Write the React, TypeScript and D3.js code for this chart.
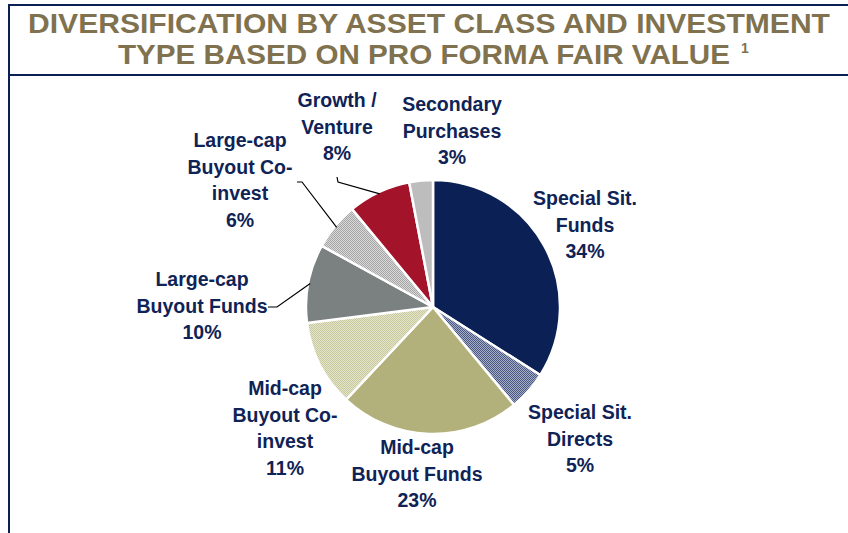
import React from 'react';
import * as d3 from 'd3';

// slice data, clockwise from 12 o'clock
const labels = [
  ['Special Sit.', 'Funds'],
  ['Special Sit.', 'Directs'],
  ['Mid-cap', 'Buyout Funds'],
  ['Mid-cap', 'Buyout Co-', 'invest'],
  ['Large-cap', 'Buyout Funds'],
  ['Large-cap', 'Buyout Co-', 'invest'],
  ['Growth /', 'Venture'],
  ['Secondary', 'Purchases'],
];
const values = [34, 5, 23, 11, 10, 6, 8, 3];
const fills = [
  '#0b2055',
  'url(#patDirects)',
  '#b3b17b',
  'url(#patMidCo)',
  '#7b8180',
  'url(#patLargeCo)',
  '#a3142b',
  '#bdbdbd',
];

// label block centre (x) and first baseline (y), relative to pie centre
const labelPos = [
  [152, -102],
  [147, 112],
  [-16, 147],
  [-148, 88],
  [-231, -21],
  [-193, -160],
  [-96, -200],
  [19, -196],
];
// leader line elbows for the labels outside the pie (null = no line)
const leaders: (number[][] | null)[] = [
  null, null, null, null,
  [[-156, 0], [-165, 0]],
  [[-131, -125], [-136, -125]],
  [[-95, -125], [-96, -130]],
  null,
];

const W = 848;
const H = 533;
const cx = 433;
const cy = 307;
const R = 127;

const App = () => {
  const pie = d3.pie<number>().sort(null).value((d) => d);
  const arcs = pie(values);
  const arc = d3.arc<d3.PieArcDatum<number>>().innerRadius(0).outerRadius(R);
  const lineGen = d3.line();

  return (
    <svg width={W} height={H} style={{ position: 'absolute', left: 0, top: 0, background: '#fff' }}>
      <defs>
        <pattern id="patDirects" width="2" height="2" patternUnits="userSpaceOnUse">
          <rect width="2" height="2" fill="#a3adc6" />
          <rect width="1" height="1" fill="#4a5883" />
          <rect x="1" y="1" width="1" height="1" fill="#4a5883" />
        </pattern>
        <pattern id="patMidCo" width="2" height="2" patternUnits="userSpaceOnUse">
          <rect width="2" height="2" fill="#e4e4c8" />
          <rect width="1" height="1" fill="#c9c9a0" />
          <rect x="1" y="1" width="1" height="1" fill="#c9c9a0" />
        </pattern>
        <pattern id="patLargeCo" width="2" height="2" patternUnits="userSpaceOnUse">
          <rect width="2" height="2" fill="#d8d8d8" />
          <rect width="1" height="1" fill="#a6a6a6" />
          <rect x="1" y="1" width="1" height="1" fill="#a6a6a6" />
        </pattern>
      </defs>

      {/* frame */}
      <line x1={9} y1={4} x2={9} y2={H} stroke="#0b1f55" strokeWidth={2} />
      <line x1={8} y1={5} x2={W} y2={5} stroke="#0b1f55" strokeWidth={2} />
      <line x1={8} y1={75} x2={W} y2={75} stroke="#0b1f55" strokeWidth={2} />

      {/* title */}
      <g fill="#80724f" fontFamily="'Liberation Sans Narrow', 'Arial Narrow', Arial, sans-serif" fontWeight="bold">
        <text x={429} y={33} fontSize={28.5} textAnchor="middle" textLength={802} lengthAdjust="spacingAndGlyphs">
          DIVERSIFICATION BY ASSET CLASS AND INVESTMENT
        </text>
        <text x={424} y={63.5} fontSize={28.5} textAnchor="middle" textLength={612} lengthAdjust="spacingAndGlyphs">
          TYPE BASED ON PRO FORMA FAIR VALUE
        </text>
        <text x={741} y={53} fontSize={14} fontFamily="Arial, 'Liberation Sans', sans-serif">1</text>
      </g>

      <g transform={`translate(${cx},${cy})`}>
        {arcs.map((a, i) => (
          <path key={i} d={arc(a) || ''} fill={fills[i]} stroke="#fff" strokeWidth={2.5} strokeLinejoin="round" />
        ))}

        {arcs.map((a, i) => {
          const el = leaders[i];
          if (!el) return null;
          const mid = (a.startAngle + a.endAngle) / 2;
          const p0: [number, number] = [Math.sin(mid) * (R - 2), -Math.cos(mid) * (R - 2)];
          const pts = [p0, ...el.map((p) => [p[0], p[1]] as [number, number])];
          return <path key={'l' + i} d={lineGen(pts) || ''} fill="none" stroke="#000" strokeWidth={1.2} />;
        })}

        {arcs.map((a, i) => {
          const [lx, ly] = labelPos[i];
          const lines = [...labels[i], `${values[i]}%`];
          return (
            <text key={'t' + i} x={lx} y={ly} textAnchor="middle" fill="#0f2356"
              fontFamily="Arial, 'Liberation Sans', sans-serif" fontWeight="bold" fontSize={19.5}>
              {lines.map((s, j) => (
                <tspan key={j} x={lx} dy={j === 0 ? 0 : 26.5}>{s}</tspan>
              ))}
            </text>
          );
        })}
      </g>
    </svg>
  );
};

export default App;
